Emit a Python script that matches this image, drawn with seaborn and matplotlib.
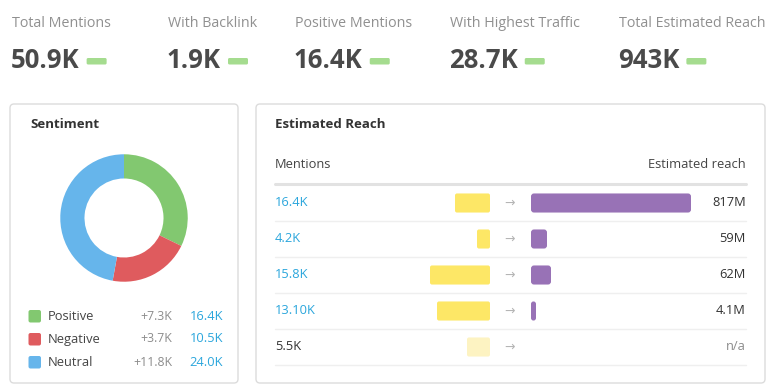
import numpy as np
import pandas as pd
import matplotlib as mpl
import matplotlib.pyplot as plt
import seaborn as sns
from matplotlib.patches import FancyBboxPatch

# ---- data ----
kpi_labels = ['Total Mentions', 'With Backlink', 'Positive Mentions', 'With Highest Traffic', 'Total Estimated Reach']
kpi_values = ['50.9K', '1.9K', '16.4K', '28.7K', '943K']

sent_labels = ['Positive', 'Negative', 'Neutral']
sent_values = [16.4, 10.5, 24.0]
sent_delta = ['+7.3K', '+3.7K', '+11.8K']
sent_text = ['16.4K', '10.5K', '24.0K']

reach_mentions = ['16.4K', '4.2K', '15.8K', '13.10K', '5.5K']
mention_bar = [35, 13, 60, 53, 23]          # bar length as drawn
reach_bar = [160, 16, 20, 5, np.nan]        # bar length as drawn
reach_text = ['817M', '59M', '62M', '4.1M', 'n/a']

W, H = 773, 388
GREEN, RED, BLUE = '#82c870', '#df5b5e', '#66b5eb'
YELLOW, YELLOW_LT, PURPLE = '#fde766', '#fdf3c2', '#9872b6'
LINK, GREY, DARK = '#2ba6dc', '#8c8c8c', '#333333'

sns.set_style('white')
plt.rcParams['font.family'] = ['Open Sans', 'DejaVu Sans']

fig = plt.figure(figsize=(W / 100, H / 100), dpi=100)
ax = fig.add_axes([0, 0, 1, 1])
ax.set_xlim(0, W)
ax.set_ylim(H, 0)
ax.axis('off')


def px_axes(x, y, w, h):
    return fig.add_axes([x / W, 1 - (y + h) / H, w / W, h / H])


def round_bars(bax, r_px, row_px):
    # swap seaborn's square bars for rounded ones of the same size
    for p in list(bax.patches):
        x0, y0, w, h = p.get_x(), p.get_y(), p.get_width(), p.get_height()
        if not np.isfinite(w) or w == 0:
            p.remove()
            continue
        fb = FancyBboxPatch((min(x0, x0 + w), y0), abs(w), h,
                            boxstyle=f'round,pad=0,rounding_size={min(r_px, abs(w) / 2)}',
                            mutation_aspect=1 / row_px, fc=p.get_facecolor(), ec='none')
        p.remove()
        bax.add_patch(fb)


# ---- KPI strip ----
kpi_x = [12, 168, 295, 450, 619]
fig.canvas.draw()
for x, lab, val in zip(kpi_x, kpi_labels, kpi_values):
    ax.text(x, 27, lab, fontsize=10.3, color='#909090', va='baseline')
    t = ax.text(x - 1, 67.5, val, fontsize=18.5, fontweight='bold', color='#4a4a4a', va='baseline')
    bb = t.get_window_extent(renderer=fig.canvas.get_renderer())
    x1 = bb.x1 + 7
    ax.add_patch(FancyBboxPatch((x1, 58), 20, 6.5, boxstyle='round,pad=0,rounding_size=1.5',
                                fc='#a5dc8f', ec='none'))

# ---- cards ----
for (x, y, w, h) in [(10, 104, 228, 279), (256, 104, 509, 279)]:
    ax.add_patch(FancyBboxPatch((x, y), w, h, boxstyle='round,pad=0,rounding_size=4',
                                fc='white', ec='#dcdcdc', lw=1))

ax.text(30, 125, 'Sentiment', fontsize=9.5, fontweight='bold', color=DARK, va='center')
ax.text(275, 125, 'Estimated Reach', fontsize=9.5, fontweight='bold', color=DARK, va='center')

# donut
dax = px_axes(59, 153, 130, 130)
dax.pie(sent_values, colors=[GREEN, RED, BLUE], startangle=90, counterclock=False,
        wedgeprops=dict(width=0.38, edgecolor='white', linewidth=0))
dax.set_xlim(-1.02, 1.02)
dax.set_ylim(-1.02, 1.02)
dax.set_aspect('equal')
dax.axis('off')

# legend rows
for i, (lab, d, v, c) in enumerate(zip(sent_labels, sent_delta, sent_text, [GREEN, RED, BLUE])):
    y = 316 + i * 23
    ax.add_patch(FancyBboxPatch((28.5, y - 6), 12.5, 12.5, boxstyle='round,pad=0,rounding_size=2',
                                fc=c, ec='none'))
    ax.text(48, y, lab, fontsize=9.3, color='#444444', va='center')
    ax.text(172, y, d, fontsize=8.8, color=GREY, va='center', ha='right')
    ax.text(223, y, v, fontsize=9.3, color=LINK, va='center', ha='right')

# reach table
ax.text(275, 164, 'Mentions', fontsize=9.3, color='#444444', va='center')
ax.text(746, 164, 'Estimated reach', fontsize=9.3, color='#444444', va='center', ha='right')
ax.plot([275, 746], [184, 184], color='#e2e2e2', lw=2.2, solid_capstyle='round')

rows = list(range(len(reach_mentions)))
for i in rows:
    y = 203 + i * 36
    ax.plot([275, 746], [y + 17.5, y + 17.5], color='#efefef', lw=1)
    c = LINK if i < 4 else DARK
    ax.text(275, y, reach_mentions[i], fontsize=9.3, color=c, va='center')
    ax.text(510, y, '\u2192', fontsize=9, color='#b5b5b5', va='center', ha='center',
            family=['DejaVu Sans'])
    ax.text(746, y, reach_text[i], fontsize=9.3, color=GREY if reach_text[i] == 'n/a' else DARK,
            va='center', ha='right')

df = pd.DataFrame({'row': [str(r) for r in rows], 'mentions': mention_bar, 'reach': reach_bar})

yax = px_axes(400, 185, 90, 180)
sns.barplot(data=df, x='mentions', y='row', hue='row', legend=False,
            palette=[YELLOW] * 4 + [YELLOW_LT], width=0.53, saturation=1, ax=yax)
yax.set_xlim(90, 0)
yax.axis('off')
round_bars(yax, 2, 36)

pax = px_axes(531, 185, 180, 180)
sns.barplot(data=df, x='reach', y='row', color=PURPLE, width=0.53, saturation=1, ax=pax)
pax.set_xlim(0, 180)
pax.axis('off')
round_bars(pax, 3, 36)

fig.savefig('out.png', dpi=100)
